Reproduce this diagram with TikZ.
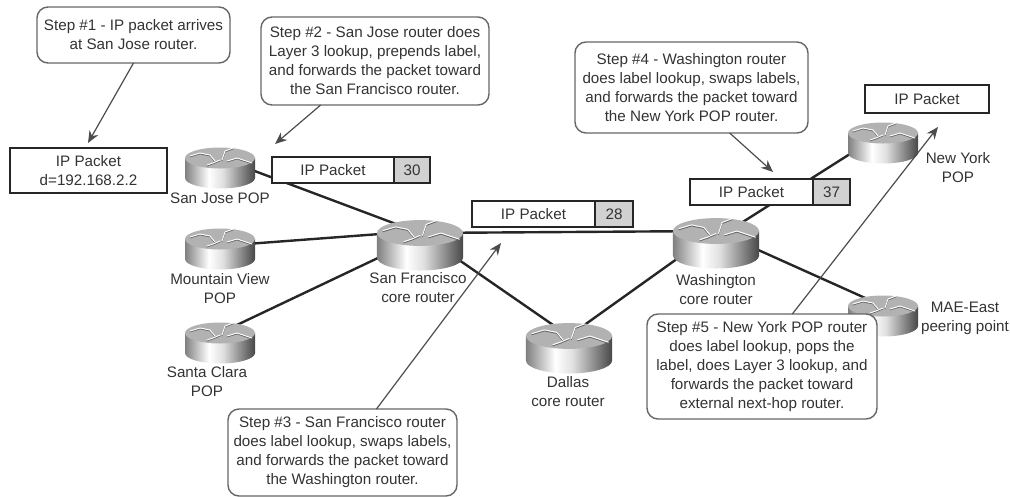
\documentclass[tikz,border=0pt]{standalone}
\usepackage{fontspec}
\setmainfont{Liberation Sans}
\usetikzlibrary{positioning,arrows.meta}
\pgfdeclarehorizontalshading{routerside}{100bp}{color(0bp)=(black!50); color(25bp)=(black!50); color(42bp)=(white); color(52bp)=(black!12); color(75bp)=(black!72); color(100bp)=(black!72)}
\tikzset{
  x=1pt,y=1pt,
  every node/.style={font=\fontsize{15.2}{19}\selectfont,text=black!80,align=center,inner sep=0pt,outer sep=0pt},
  callout/.style={draw=black!60,line width=1.4pt,rounded corners=11pt,fill=white},
  packet/.style={draw=black!85,line width=2pt,fill=white,minimum height=26,anchor=west},
  tag/.style={packet,fill=black!18,minimum width=36},
  link/.style={line width=2.4pt,draw=black!85},
  steparrow/.style={draw=black!70,line width=1.2pt,-{Stealth[length=12pt,width=10pt]}},
  pics/router/.style={code={
    \shade[shading=routerside] (-35,0) -- (-35,-20) arc[start angle=180,end angle=360,x radius=35,y radius=10.5] -- (35,0) -- cycle;
    \fill[black!30] (0,0) ellipse[x radius=35,y radius=10.5];
    \foreach \c/\d in {black!60/-0.9,white/0}{
      \draw[\c,line width=0.9pt,line cap=round,yshift=\d] (-30,2) -- (-20,5) -- (-10,3) -- (-5,-3);
      \draw[\c,line width=0.9pt,line cap=round,yshift=\d] (2,-2) -- (5,7) -- (13,10);
      \draw[\c,line width=0.9pt,line cap=round,yshift=\d] (7,-3) -- (17,0) -- (32,-5);
      \draw[\c,line width=0.9pt,line cap=round,yshift=\d] (-13,-7) -- (-7,-5) -- (0,-2);
    }
  }}
}
\begin{document}
\begin{tikzpicture}
  \useasboundingbox (0,0) rectangle (1010,-496);
  \newcommand{\routerlist}{sj/220/158/1,mv/220/239/1,sc/220/333/1,ny/883/133/1,mae/883/306/1,sf/420/233/1.23,wash/716/231/1.23,dallas/569/336/1.23}
  \foreach \n/\x/\y/\s in \routerlist {\coordinate (\n) at (\x,-\y);}
  % links between routers
  \draw[link] (sj) -- (sf);
  \draw[link] ([yshift=-7]mv.center) -- ([yshift=2]sf.center);
  \draw[link] (sc) -- ([yshift=-5]sf.center);
  \draw[link] (sf) -- (wash);
  \draw[link] (sf) -- (dallas);
  \draw[link] (dallas) -- (wash);
  \draw[link] ([yshift=-8]wash.center) -- (ny);
  \draw[link] (wash) -- (mae);
  \foreach \n/\x/\y/\s in \routerlist {\pic[scale=\s] at (\n) {router};}
  % router names
  \node (sjname) at (220,-198) {San Jose POP};
  \node (mvname) at (220,-289) {Mountain View\\POP};
  \node (scname) at (207,-382) {Santa Clara\\POP};
  \node (sfname) at (418,-288) {San Francisco\\core router};
  \node (washname) at (716,-290) {Washington\\core router};
  \node (dallasname) at (568,-392) {Dallas\\core router};
  \node (nyname) at (958,-168) {New York\\POP};
  \node (maename) at (965,-318) {MAE-East\\peering point};
  % packets
  \node[draw=black!85,line width=1.3pt,fill=white,minimum width=157,minimum height=45] (pktd) at (88.5,-170.5) {IP Packet\\d=192.168.2.2};
  \node[packet,minimum width=122] (pkta) at (272,-170) {IP Packet};
  \node[tag,right=0pt of pkta] (taga) {30};
  \node[packet,minimum width=123] (pktb) at (472,-214) {IP Packet};
  \node[tag,right=0pt of pktb,minimum width=38] (tagb) {28};
  \node[packet,minimum width=123] (pktc) at (690,-192) {IP Packet};
  \node[tag,right=0pt of pktc,minimum width=37] (tagc) {37};
  \node[packet,minimum width=124,minimum height=28] (pkte) at (865,-99) {IP Packet};
  % steps
  \node[callout,minimum width=193,minimum height=56] (stepa) at (133.5,-35) {Step \#1 - IP packet arrives\\at San Jose router.};
  \node[callout,minimum width=228,minimum height=88] (stepb) at (375,-61) {Step \#2 - San Jose router does\\Layer 3 lookup, prepends label,\\and forwards the packet toward\\the San Francisco router.};
  \node[callout,minimum width=229,minimum height=87] (stepc) at (342.5,-452.5) {Step \#3 - San Francisco router\\does label lookup, swaps labels,\\and forwards the packet toward\\the Washington router.};
  \node[callout,minimum width=233,minimum height=91] (stepd) at (691.5,-87.5) {Step \#4 - Washington router\\does label lookup, swaps labels,\\and forwards the packet toward\\the New York POP router.};
  \coordinate (tipa) at (88,-143);
  \coordinate (tipb) at (275,-144);
  \coordinate (tipc) at (501,-243);
  \coordinate (tipd) at (773,-172);
  \coordinate (tipe) at (938,-127);
  \draw[steparrow] (stepa.south) -- (tipa);
  \draw[steparrow] (stepb.-141) -- (tipb);
  \draw[steparrow] (stepc.52) -- (tipc);
  \draw[steparrow] (stepd.-50) -- (tipd);
  \node[callout,minimum width=230,minimum height=105] (stepe) at (762,-366.5) {Step \#5 - New York POP router\\does label lookup, pops the\\label, does Layer 3 lookup, and\\forwards the packet toward\\external next-hop router.};
  \draw[steparrow] (stepe.60) -- (tipe);
\end{tikzpicture}
\end{document}
